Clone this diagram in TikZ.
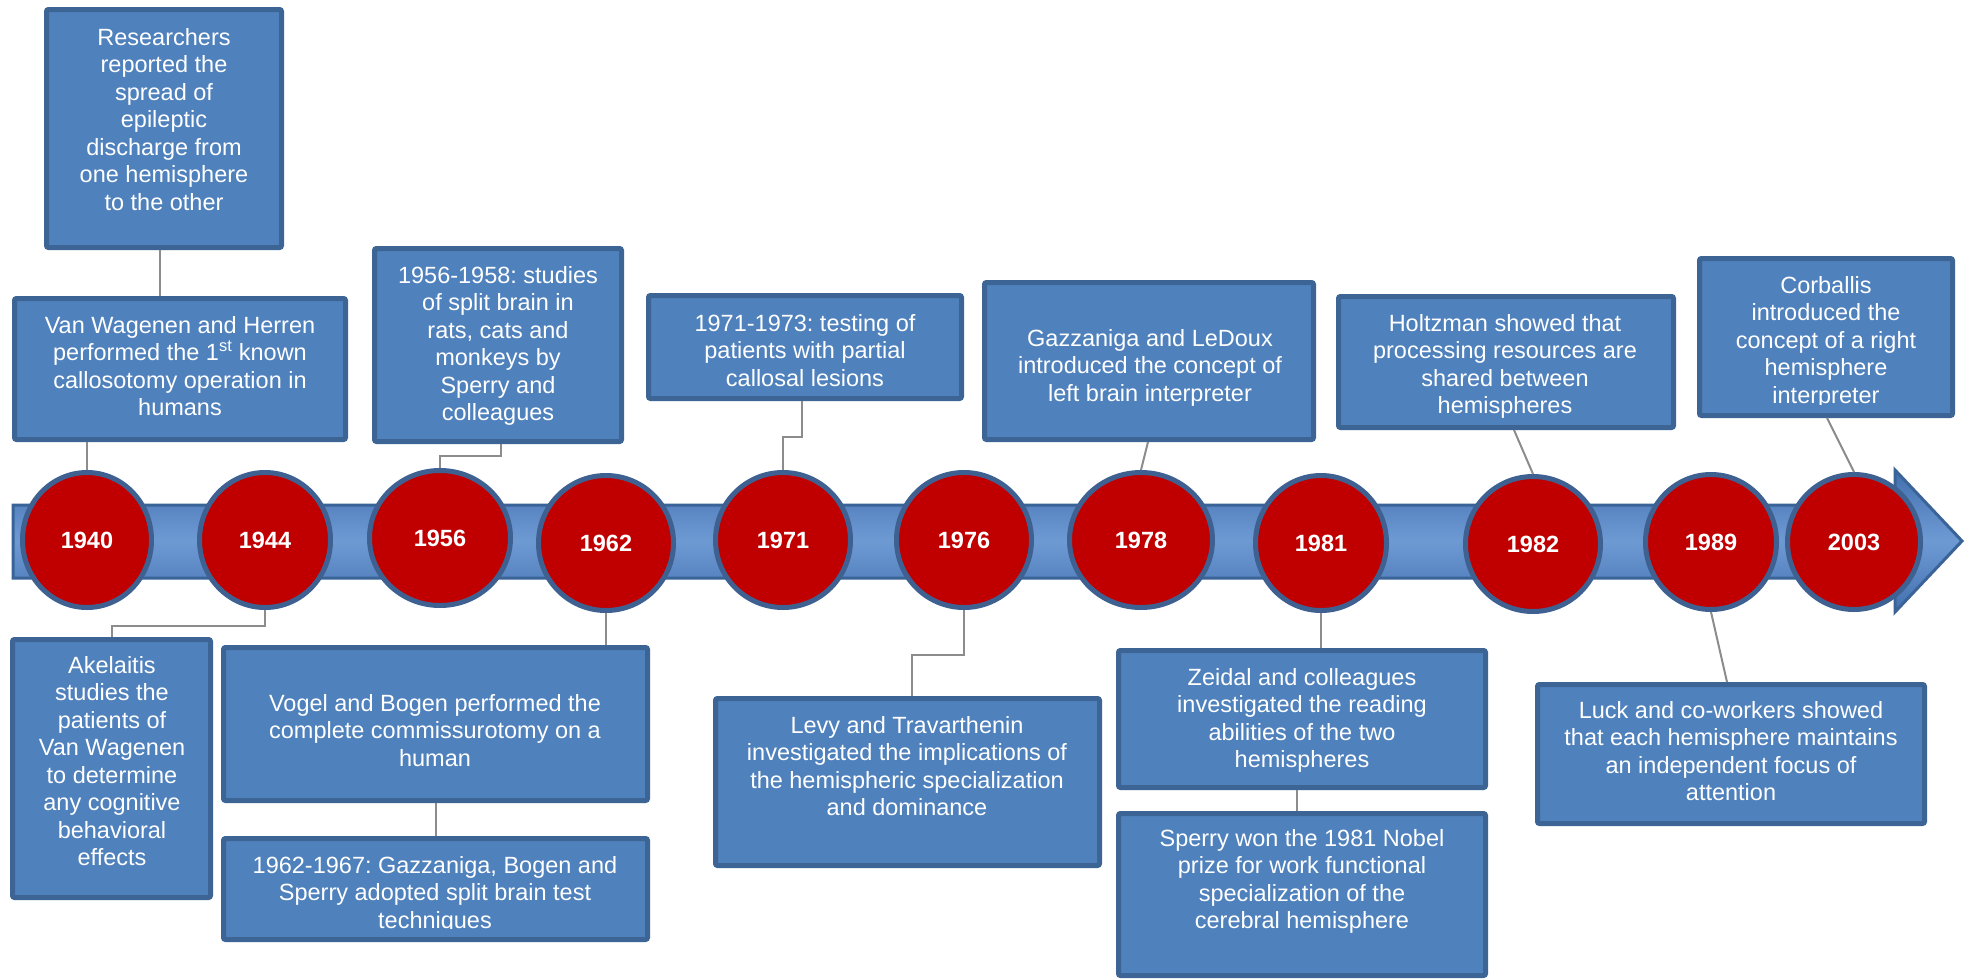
\documentclass[tikz,border=0pt]{standalone}
\usepackage{fontspec}
\setmainfont{Liberation Sans}
\usetikzlibrary{shapes.geometric}
\definecolor{boxfill}{HTML}{4F81BD}
\definecolor{boxline}{HTML}{3C6494}
\definecolor{yearfill}{HTML}{C00000}
\definecolor{yearline}{HTML}{3E6192}
\definecolor{linkgray}{HTML}{8C8C8C}
\definecolor{banddark}{HTML}{4270AE}
\definecolor{bandlight}{HTML}{6E9AD4}
\definecolor{bandline}{HTML}{3A6398}
\frenchspacing
\begin{document}
\begin{tikzpicture}[x=1pt,y=-1pt,
 tbox/.style={rectangle, draw=boxline, fill=boxfill, line width=5pt, rounded corners=2pt, inner sep=0pt},
 yearc/.style={ellipse, draw=yearline, fill=yearfill, line width=5pt, inner sep=0pt, minimum height=135pt, text=white, font=\bfseries\fontsize{23.5}{28}\selectfont},
 txt/.style={text=white, align=center, inner sep=0pt, anchor=north, font=\frenchspacing\fontsize{23.5}{27.5}\selectfont},
 link/.style={draw=linkgray, line width=2pt}]
\useasboundingbox (0,0) rectangle (1966,980);
\fill[white] (0,0) rectangle (1966,980);

% timeline band with arrow head
\path[draw=bandline, line width=3pt, top color=banddark, bottom color=banddark, middle color=bandlight]
  (13,505) -- (1895,505) -- (1895,470) -- (1962,541) -- (1895,612) -- (1895,578) -- (13,578) -- cycle;

% year circles
\node[yearc, minimum width=129pt] (c1940) at (87,540) {1940};
\node[yearc, minimum width=131pt] (c1944) at (265,540) {1944};
\node[yearc, minimum width=141pt] (c1956) at (440,538) {1956};
\node[yearc, minimum width=135pt] (c1962) at (606,543) {1962};
\node[yearc, minimum width=135pt] (c1971) at (783,540) {1971};
\node[yearc, minimum width=135pt] (c1976) at (964,540) {1976};
\node[yearc, minimum width=143pt] (c1978) at (1141,540) {1978};
\node[yearc, minimum width=131pt] (c1981) at (1321,543) {1981};
\node[yearc, minimum width=135pt] (c1982) at (1533,544) {1982};
\node[yearc, minimum width=131pt] (c1989) at (1711,542) {1989};
\node[yearc, minimum width=133pt] (c2003) at (1854,542) {2003};

% boxes
\node[tbox, minimum width=235pt, minimum height=238pt] (R) at (164,128.5) {};
\node[tbox, minimum width=331pt, minimum height=141pt] (VW) at (180,369) {};
\node[tbox, minimum width=247pt, minimum height=193pt] (S56) at (498,345) {};
\node[tbox, minimum width=313pt, minimum height=103pt] (S71) at (805,347) {};
\node[tbox, minimum width=329pt, minimum height=157pt] (GL) at (1149,361) {};
\node[tbox, minimum width=335pt, minimum height=131pt] (H) at (1506,362) {};
\node[tbox, minimum width=253pt, minimum height=157pt] (C) at (1826,337) {};
\node[tbox, minimum width=198pt, minimum height=258pt] (A) at (111.5,768.5) {};
\node[tbox, minimum width=424pt, minimum height=153pt] (V) at (435.5,724) {};
\node[tbox, minimum width=424pt, minimum height=101pt] (G62) at (435.5,889) {};
\node[tbox, minimum width=384pt, minimum height=167pt] (L) at (907.5,782) {};
\node[tbox, minimum width=367pt, minimum height=137pt] (Z) at (1302,719) {};
\node[tbox, minimum width=367pt, minimum height=162pt] (Sp) at (1302,894.5) {};
\node[tbox, minimum width=387pt, minimum height=139pt] (Lu) at (1731,754) {};

% texts
\node[txt] (tR) at (164,28) {Researchers\\reported the\\spread of\\epileptic\\discharge from\\one hemisphere\\to the other};
\node[txt] (tVW) at (180,316) {Van Wagenen and Herren\\performed the 1\textsuperscript{st} known\\callosotomy operation in\\humans};
\node[txt] (tS56) at (498,266) {1956-1958: studies\\of split brain in\\rats, cats and\\monkeys by\\Sperry and\\colleagues};
\node[txt] (tS71) at (805,314) {1971-1973: testing of\\patients with partial\\callosal lesions};
\node[txt] (tGL) at (1150,329) {Gazzaniga and LeDoux\\introduced the concept of\\left brain interpreter};
\node[txt] (tH) at (1505,314) {Holtzman showed that\\processing resources are\\shared between\\hemispheres};
\begin{scope}
\clip (1697,256) rectangle (1955,404);
\node[txt] (tC) at (1826,276) {Corballis\\introduced the\\concept of a right\\hemisphere\\interpreter};
\end{scope}
\node[txt] (tA) at (112,656) {Akelaitis\\studies the\\patients of\\Van Wagenen\\to determine\\any cognitive\\behavioral\\effects};
\node[txt] (tV) at (435,694) {Vogel and Bogen performed the\\complete commissurotomy on a\\human};
\begin{scope}
\clip (221,836) rectangle (650,928);
\node[txt] (tG62) at (435,856) {1962-1967: Gazzaniga, Bogen and\\Sperry adopted split brain test\\techniques};
\end{scope}
\node[txt] (tL) at (907,716) {Levy and Travarthenin\\investigated the implications of\\the hemispheric specialization\\and dominance};
\node[txt] (tZ) at (1302,668) {Zeidal and colleagues\\investigated the reading\\abilities of the two\\hemispheres};
\node[txt] (tSp) at (1302,829) {Sperry won the 1981 Nobel\\prize for work functional\\specialization of the\\cerebral hemisphere};
\node[txt] (tLu) at (1731,701) {Luck and co-workers showed\\that each hemisphere maintains\\an independent focus of\\attention};

% connectors
\draw[link] (160,0 |- R.south) -- (160,0 |- VW.north);
\draw[link] (c1940.north |- VW.south) -- (c1940.north);
\draw[link] (501,0 |- S56.south) |- (c1956.north |- 0,456) -- (c1956.north);
\draw[link] (802,0 |- S71.south) |- (c1971.north |- 0,437) -- (c1971.north);
\draw[link] (1148,0 |- GL.south) -- (c1978.north);
\draw[link] (1514,0 |- H.south) -- (c1982.north);
\draw[link] (1827,0 |- C.south) -- (c2003.north);
\draw[link] (c1944.south) |- (A.north |- 0,626) -- (A.north);
\draw[link] (c1962.south) -- (c1962.south |- V.north);
\draw[link] (V.south) -- (G62.north);
\draw[link] (c1976.south) |- (912,655) -- (912,0 |- L.north);
\draw[link] (c1981.south) -- (c1981.south |- Z.north);
\draw[link] (1297,0 |- Z.south) -- (1297,0 |- Sp.north);
\draw[link] (c1989.south) -- (1727,0 |- Lu.north);
\end{tikzpicture}
\end{document}
